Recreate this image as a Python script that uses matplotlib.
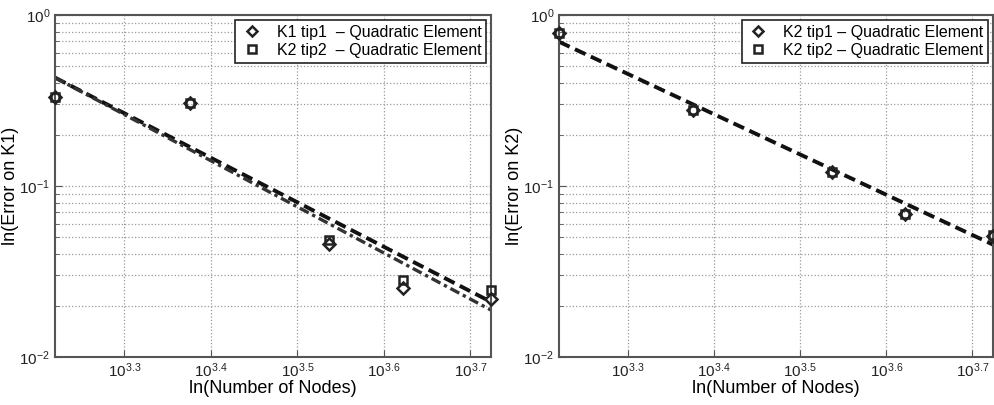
import matplotlib
matplotlib.use("Agg")
from matplotlib import pyplot as plt
from matplotlib.ticker import FixedLocator, NullLocator, LogLocator, NullFormatter

plt.rcParams['font.family'] = ['Liberation Sans', 'DejaVu Sans']
plt.rcParams['mathtext.default'] = 'regular'

# number of nodes for each mesh
nodes = [1660, 2377, 3443, 4188, 5297]

# left panel: error on K1
k1_tip1 = [0.331, 0.305, 0.0458, 0.0253, 0.0218]
k1_tip2 = [0.331, 0.305, 0.0483, 0.0282, 0.0247]
k1_fit_x = [1660, 5297]
k1_fit_tip2 = [0.430, 0.0210]
k1_fit_tip1 = [0.430, 0.0188]

# right panel: error on K2
k2_tip1 = [0.785, 0.277, 0.120, 0.0687, 0.0512]
k2_tip2 = [0.785, 0.280, 0.121, 0.0690, 0.0515]
k2_fit_x = [1660, 5297]
k2_fit = [0.697, 0.0454]

xtick_exp = [3.3, 3.4, 3.5, 3.6, 3.7]
xlims = (10 ** 3.22, 10 ** 3.724)

fig = plt.figure(figsize=(9.95, 4.05), dpi=100)
ax1 = fig.add_axes([0.0553, 0.1185, 0.4382, 0.8445])
ax2 = fig.add_axes([0.5618, 0.1185, 0.4362, 0.8445])

mk = dict(linestyle='none', markerfacecolor='none', markeredgecolor='#222222',
          markeredgewidth=1.8, markersize=6, clip_on=False, zorder=5)


def style(ax, ylabel):
    ax.set_xscale('log')
    ax.set_yscale('log')
    ax.set_xlim(*xlims)
    ax.set_ylim(1e-2, 1)
    ax.xaxis.set_major_locator(FixedLocator([10 ** e for e in xtick_exp]))
    ax.set_xticklabels(['$10^{%.1f}$' % e for e in xtick_exp])
    ax.xaxis.set_minor_locator(NullLocator())
    ax.yaxis.set_major_locator(FixedLocator([1e-2, 1e-1, 1]))
    ax.set_yticklabels(['$10^{-2}$', '$10^{-1}$', '$10^{0}$'])
    ax.yaxis.set_minor_locator(LogLocator(base=10, subs=range(2, 10)))
    ax.yaxis.set_minor_formatter(NullFormatter())
    ax.grid(True, which='both', linestyle=':', color='#9a9a9a', linewidth=0.9)
    ax.tick_params(which='both', direction='in', colors='#555555',
                   labelcolor='#222222', labelsize=11)
    ax.tick_params(which='major', length=5)
    ax.tick_params(which='minor', length=3)
    for s in ax.spines.values():
        s.set_color('#555555')
        s.set_linewidth(1.5)
    ax.set_xlabel('ln(Number of Nodes)', fontsize=13, labelpad=0)
    ax.set_ylabel(ylabel, fontsize=13, labelpad=0)


style(ax1, 'ln(Error on K1)')
style(ax2, 'ln(Error on K2)')

ax1.plot(nodes, k1_tip1, marker='D', label='K1 tip1  \u2013 Quadratic Element', **mk)
ax1.plot(nodes, k1_tip2, marker='s', label='K2 tip2  \u2013 Quadratic Element', **mk)
ax1.plot(k1_fit_x, k1_fit_tip2, color='#111111', linestyle=(0, (3, 1.5)), linewidth=2.8)
ax1.plot(k1_fit_x, k1_fit_tip1, color='#333333', linestyle=(0, (3, 1.2, 1, 1.2)), linewidth=2.4)

ax2.plot(nodes, k2_tip1, marker='D', label='K2 tip1 \u2013 Quadratic Element', **mk)
ax2.plot(nodes, k2_tip2, marker='s', label='K2 tip2 \u2013 Quadratic Element', **mk)
ax2.plot(k2_fit_x, k2_fit, color='#111111', linestyle=(0, (3, 1.5)), linewidth=2.8)

for ax in (ax1, ax2):
    leg = ax.legend(loc='upper right', fontsize=11.5, fancybox=False, framealpha=1,
                    edgecolor='#222222', borderaxespad=0.3, handlelength=1.5,
                    handletextpad=0.8, borderpad=0.3, labelspacing=0.2,
                    markerscale=0.85)
    leg.get_frame().set_linewidth(1.2)

fig.savefig('out.png', dpi=100)
